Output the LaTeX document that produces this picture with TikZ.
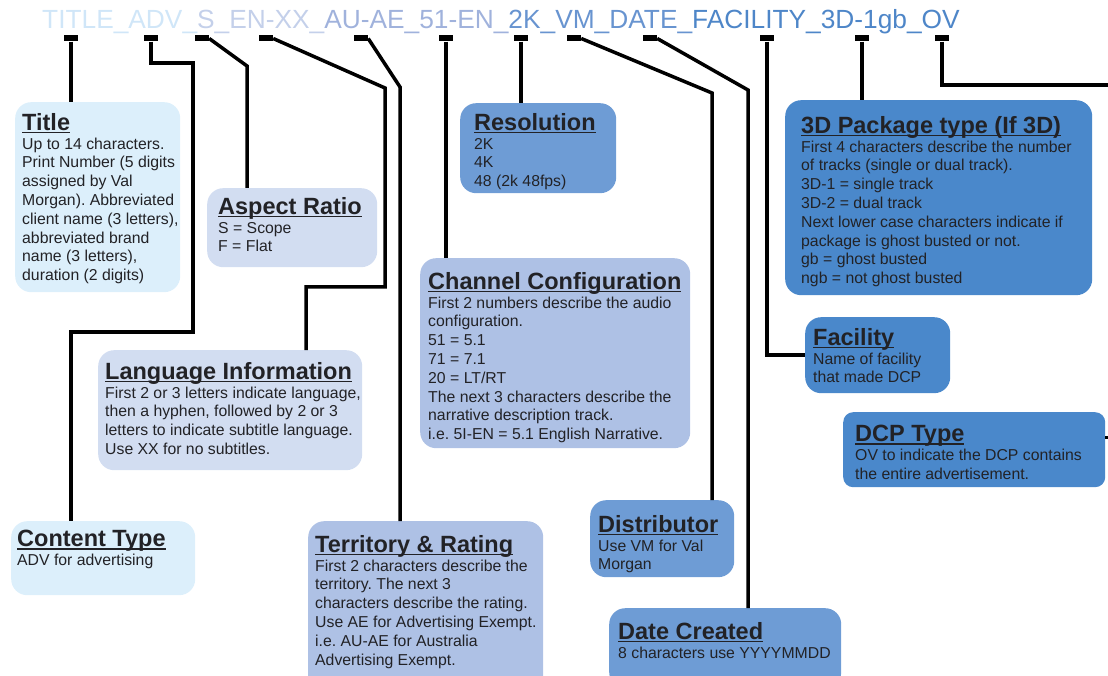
\documentclass[tikz,border=0pt]{standalone}
\usepackage{fontspec}
\setmainfont{Liberation Sans}
\usepackage{xcolor}
\definecolor{valCyan}{RGB}{220,239,251}
\definecolor{valLilac}{RGB}{210,221,241}
\definecolor{valLavender}{RGB}{174,193,229}
\definecolor{valMid}{RGB}{110,156,213}
\definecolor{valDeep}{RGB}{74,136,203}
\definecolor{valInk}{RGB}{34,34,38}
\definecolor{codeCyan}{RGB}{208,230,248}
\definecolor{codeLilac}{RGB}{196,208,234}
\definecolor{codeLav}{RGB}{160,178,220}
\definecolor{codeMid}{RGB}{104,148,208}
\definecolor{codeDeep}{RGB}{78,134,200}

\frenchspacing
\newcommand{\bodyfont}{\fontsize{15.8}{18.8}\selectfont}
\newcommand{\headfont}{\fontsize{23.5}{24}\selectfont\bfseries}
\newcommand{\boxhead}[1]{\setbox0=\hbox{\headfont #1}\rlap{\rule[-3.2pt]{\wd0}{1.8pt}}\box0}

\begin{document}
\begin{tikzpicture}[x=1pt, y=-1pt,
        tab/.style={fill=black, minimum width=14pt, minimum height=6pt, inner sep=0pt},
        wire/.style={line width=3.5pt, black},
        info/.style={rectangle, rounded corners=16pt, anchor=north west, inner sep=0pt},
        infotext/.style={anchor=north west, align=left, inner sep=0pt, text=valInk, font=\bodyfont}
    ]
        \useasboundingbox (0,0) rectangle (1108,676);
        \clip (0,0) rectangle (1108,676);

        % File name
        \node[anchor=base west, inner sep=0pt, font=\fontsize{26.3}{30}\selectfont] (code) at (42,29)
            {\textcolor{codeCyan}{TITLE\_ADV\_}\textcolor{codeLilac}{S\_EN-XX\_}\textcolor{codeLav}{AU-AE\_51-EN\_}\textcolor{codeMid}{2K\_VM\_DATE\_}\textcolor{codeDeep}{FACILITY\_3D-1gb\_OV}};

        % Tabs under the file name
        \node[tab] (t-title) at (71,38.5) {};
        \node[tab] (t-content) at (151,38.5) {};
        \node[tab] (t-aspect) at (202,38.5) {};
        \node[tab] (t-lang) at (266,38.5) {};
        \node[tab] (t-terr) at (361,38.5) {};
        \node[tab] (t-chan) at (446,38.5) {};
        \node[tab] (t-res) at (521,38.5) {};
        \node[tab] (t-dist) at (574,38.5) {};
        \node[tab] (t-date) at (650,38.5) {};
        \node[tab] (t-fac) at (767,38.5) {};
        \node[tab] (t-pkg) at (862,38.5) {};
        \node[tab] (t-dcp) at (942,38.5) {};

        % Boxes
        \node[info, fill=valCyan, minimum width=165pt, minimum height=190pt] (title) at (15,102) {};
        \node[infotext] (title-txt) at ([shift={(7,11)}]title.north west)
            {\boxhead{Title}\\Up to 14 characters.\\Print Number (5 digits\\assigned by Val\\Morgan). Abbreviated\\client name (3 letters),\\abbreviated brand\\name (3 letters),\\duration (2 digits)};

        \node[info, fill=valLilac, minimum width=170pt, minimum height=79pt] (aspect) at (207,188) {};
        \node[infotext] (aspect-txt) at ([shift={(11,9)}]aspect.north west)
            {\boxhead{Aspect Ratio}\\S = Scope\\F = Flat};

        \node[info, fill=valLilac, minimum width=264pt, minimum height=120pt] (lang) at (98,350) {};
        \node[infotext] (lang-txt) at ([shift={(7,12)}]lang.north west)
            {\boxhead{Language Information}\\First 2 or 3 letters indicate language,\\then a hyphen, followed by 2 or 3\\letters to indicate subtitle language.\\Use XX for no subtitles.};

        \node[info, fill=valCyan, minimum width=184pt, minimum height=74pt] (content) at (11,521) {};
        \node[infotext] (content-txt) at ([shift={(6,9)}]content.north west)
            {\boxhead{Content Type}\\ADV for advertising};

        \node[info, fill=valLavender, minimum width=235pt, minimum height=175pt] (terr) at (308,521) {};
        \node[infotext] (terr-txt) at ([shift={(7,14)}]terr.north west)
            {\boxhead{Territory \& Rating}\\First 2 characters describe the\\territory. The next 3\\characters describe the rating.\\Use AE for Advertising Exempt.\\i.e. AU-AE for Australia\\Advertising Exempt.};

        \node[info, fill=valMid, minimum width=156pt, minimum height=90pt] (res) at (460,103) {};
        \node[infotext] (res-txt) at ([shift={(14,10)}]res.north west)
            {\boxhead{Resolution}\\2K\\4K\\48 (2k 48fps)};

        \node[info, fill=valLavender, minimum width=270pt, minimum height=190pt] (chan) at (420,258) {};
        \node[infotext] (chan-txt) at ([shift={(8,14)}]chan.north west)
            {\boxhead{Channel Configuration}\\First 2 numbers describe the audio\\configuration.\\51 = 5.1\\71 = 7.1\\20 = LT/RT\\The next 3 characters describe the\\narrative description track.\\i.e. 5I-EN = 5.1 English Narrative.};

        \node[info, fill=valDeep, minimum width=307pt, minimum height=195pt] (pkg) at (785,100) {};
        \node[infotext] (pkg-txt) at ([shift={(16,16)}]pkg.north west)
            {\boxhead{3D Package type (If 3D)}\\First 4 characters describe the number\\of tracks (single or dual track).\\3D-1 = single track\\3D-2 = dual track\\Next lower case characters indicate if\\package is ghost busted or not.\\gb = ghost busted\\ngb = not ghost busted};

        \node[info, fill=valDeep, minimum width=145pt, minimum height=76pt] (fac) at (805,317) {};
        \node[infotext] (fac-txt) at ([shift={(8,11)}]fac.north west)
            {\boxhead{Facility}\\Name of facility\\that made DCP};

        \node[info, fill=valDeep, rounded corners=10pt, minimum width=262pt, minimum height=75pt] (dcp) at (843,412) {};
        \node[infotext] (dcp-txt) at ([shift={(12,13)}]dcp.north west)
            {\boxhead{DCP Type}\\OV to indicate the DCP contains\\the entire advertisement.};

        \node[info, fill=valMid, minimum width=144pt, minimum height=77pt] (dist) at (590,500) {};
        \node[infotext] (dist-txt) at ([shift={(8,15)}]dist.north west)
            {\boxhead{Distributor}\\Use VM for Val\\Morgan};

        \node[info, fill=valMid, minimum width=232pt, minimum height=80pt] (date) at (609,608) {};
        \node[infotext] (date-txt) at ([shift={(9,14)}]date.north west)
            {\boxhead{Date Created}\\8 characters use YYYYMMDD};

        % Connectors
        \draw[wire] (t-title.south) -- (t-title.south |- title.north);
        \draw[wire] (t-content.south) |- (193,63) |- (71,332) -- (content.north -| t-title.south);
        \draw[wire] (t-aspect.east) -- (247,66) -- (247,66 |- aspect.north);
        \draw[wire] (t-lang.east) -- (385,88) |- (306,287) -- (306,287 |- lang.north);
        \draw[wire] (t-terr.east) -- (400,87) -- (400,87 |- terr.north);
        \draw[wire] (t-chan.south) -- (t-chan.south |- chan.north);
        \draw[wire] (t-res.south) -- (t-res.south |- res.north);
        \draw[wire] (t-dist.east) -- (712,93) -- (712,93 |- dist.north);
        \draw[wire] (t-date.east) -- (748,90) -- (748,90 |- date.north);
        \draw[wire] (t-fac.south) |- (fac.west);
        \draw[wire] (t-pkg.south) -- (t-pkg.south |- pkg.north);
        \draw[wire] (t-dcp.south) |- (1120,85) |- ([yshift=12pt]dcp.east);
    \end{tikzpicture}
\end{document}
